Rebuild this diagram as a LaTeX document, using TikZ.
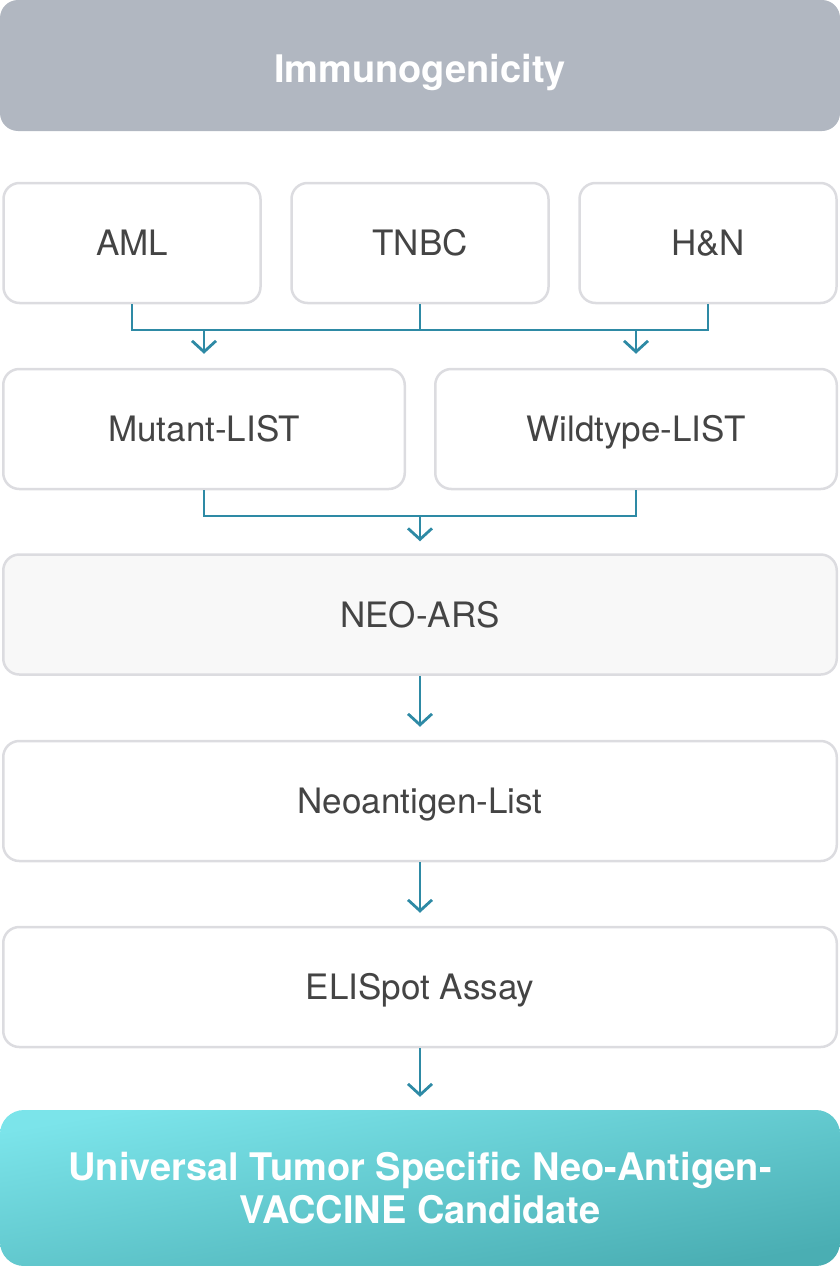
\documentclass[tikz,border=0pt]{standalone}
\usepackage{fontspec}
\setmainfont{TeX Gyre Heros}
\usepackage{xcolor}
\usetikzlibrary{arrows.meta, positioning, calc}
\definecolor{headgray}{HTML}{B1B7C1}
\definecolor{boxline}{HTML}{DCDCE0}
\definecolor{boxtext}{HTML}{444444}
\definecolor{linkteal}{HTML}{2E8AA5}
\definecolor{vacA}{HTML}{7BE4EA}
\definecolor{vacB}{HTML}{4AAEB3}
\tikzset{
  stagebox/.style={draw=boxline, line width=2.5pt, fill=white, rounded corners=16pt,
    minimum height=120pt, text=boxtext, font=\fontsize{35}{40}\selectfont, inner sep=0pt,
    text height=30pt, text depth=5pt},
  link/.style={draw=linkteal, line width=2.8pt},
  tip/.style={link, -{Straight Barb[length=11pt,width=24pt]}}
}
\begin{document}
\begin{tikzpicture}[x=1pt, y=-1pt]
  \useasboundingbox (0,0) rectangle (840,1266);
  % header
  \node[fill=headgray, rounded corners=18pt, minimum width=840pt, minimum height=131pt,
    text=white, font=\bfseries\fontsize{38}{44}\selectfont, inner sep=0pt,
    text height=37pt, text depth=3pt] (head) at (420,65.5) {Immunogenicity};
  % cancer types
  \node[stagebox, minimum width=257pt] (aml) at (132,243) {AML};
  \node[stagebox, minimum width=257pt] (tnbc) at (420,243) {TNBC};
  \node[stagebox, minimum width=257pt] (hn) at (708,243) {H\&N};
  % lists
  \node[stagebox, minimum width=401.5pt] (mutant) at (204,429) {Mutant-LIST};
  \node[stagebox, minimum width=401.5pt] (wild) at (636,429) {Wildtype-LIST};
  % pipeline
  \node[stagebox, minimum width=833.5pt, fill={rgb,255:red,248;green,248;blue,248}] (neo) at (420,614.5) {NEO-ARS};
  \node[stagebox, minimum width=833.5pt] (neoag) at (420,801) {Neoantigen-List};
  \node[stagebox, minimum width=833.5pt] (eli) at (420,987) {ELISpot Assay};
  \node[rounded corners=24pt, minimum width=840pt, minimum height=156pt, shading=axis,
    top color=vacA, bottom color=vacB, shading angle=10, text=white, align=center,
    font=\bfseries\fontsize{38}{43}\selectfont, inner sep=0pt] (vac) at (420,1188)
    {Universal Tumor Specific Neo-Antigen-\\VACCINE Candidate};
  % connectors
  \coordinate (bus1) at (0,330);
  \coordinate (bus2) at (0,516);
  \draw[link] (aml.south) |- (bus1 -| hn.south) -- (hn.south);
  \draw[link] (tnbc.south) -- (tnbc.south |- bus1);
  \draw[tip, shorten >=14pt] (mutant.north |- bus1) -- (mutant.north);
  \draw[tip, shorten >=14pt] (wild.north |- bus1) -- (wild.north);
  \draw[link] (mutant.south) |- (bus2 -| wild.south) -- (wild.south);
  \draw[tip, shorten >=12pt] (neo.north |- bus2) -- (neo.north);
  \draw[tip, shorten >=13pt] (neo.south) -- (neoag.north);
  \draw[tip, shorten >=13pt] (neoag.south) -- (eli.north);
  \draw[tip, shorten >=13pt] (eli.south) -- (vac.north);
\end{tikzpicture}
\end{document}
